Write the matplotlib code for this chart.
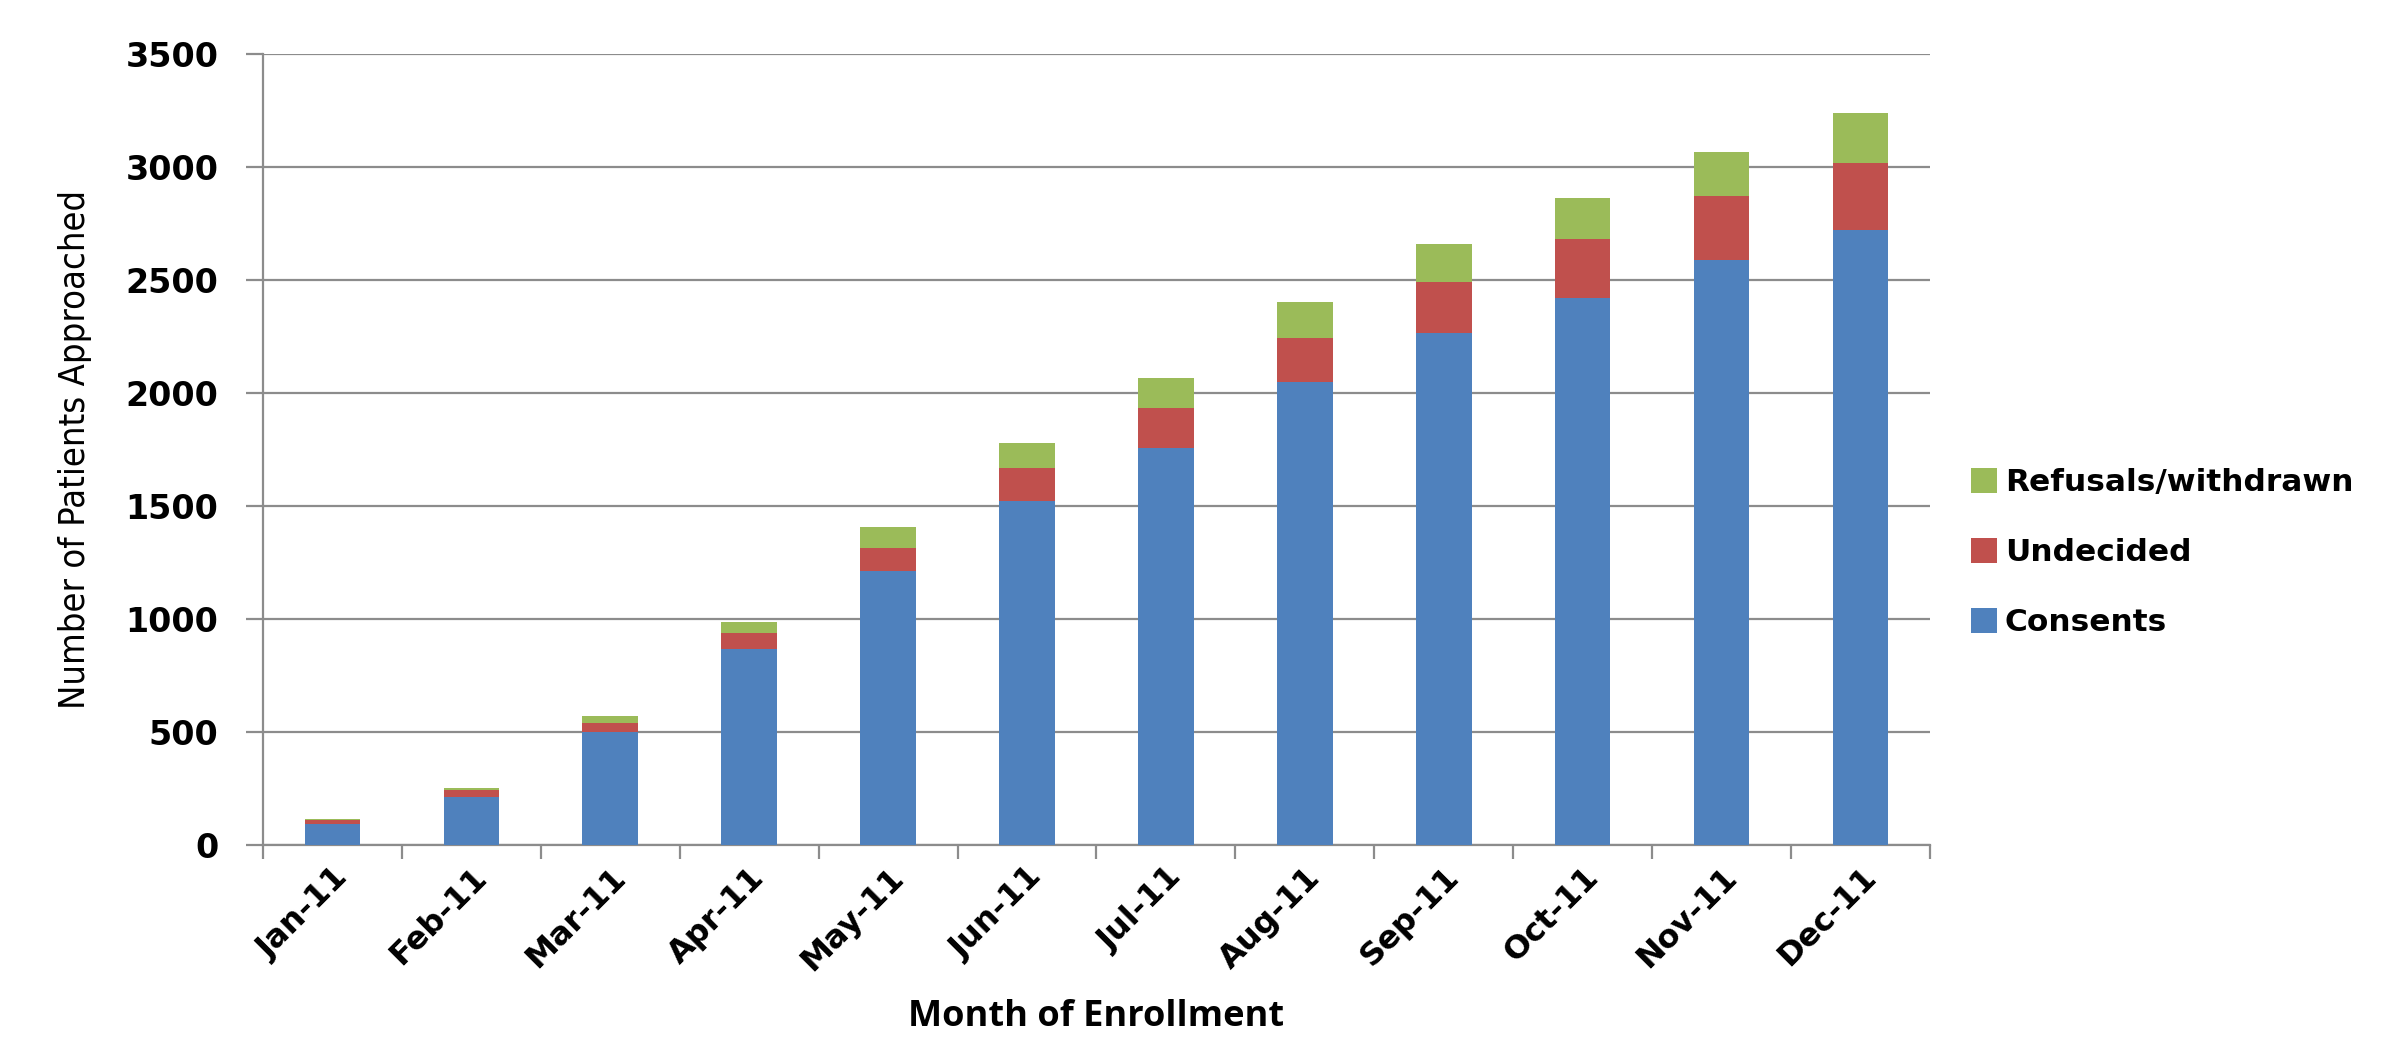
import matplotlib
matplotlib.use("Agg")
import matplotlib.pyplot as plt
import numpy as np

# monthly enrollment, cumulative counts per outcome
months = ["Jan-11", "Feb-11", "Mar-11", "Apr-11", "May-11", "Jun-11",
          "Jul-11", "Aug-11", "Sep-11", "Oct-11", "Nov-11", "Dec-11"]
consents = [93, 212, 500, 867, 1211, 1523, 1758, 2049, 2266, 2420, 2587, 2724]
undecided = [19, 33, 40, 73, 102, 144, 177, 194, 225, 261, 284, 296]
refusals = [5, 6, 30, 47, 93, 111, 131, 162, 167, 184, 197, 220]

blue = "#4F81BD"
red = "#C0504D"
green = "#9BBB59"
grid_grey = "#8C8C8C"

fig = plt.figure(figsize=(24.04, 10.42), dpi=100)
ax = fig.add_axes([0.1094, 0.189, 0.6934, 0.759])

x = np.arange(len(months))
w = 0.40
b1 = ax.bar(x, consents, w, color=blue, label="Consents", zorder=3)
b2 = ax.bar(x, undecided, w, bottom=consents, color=red, label="Undecided", zorder=3)
bottom3 = np.array(consents) + np.array(undecided)
b3 = ax.bar(x, refusals, w, bottom=bottom3, color=green, label="Refusals/withdrawn", zorder=3)

ax.set_xlim(-0.5, len(months) - 0.5)
ax.set_ylim(0, 3500)
ax.set_yticks(range(0, 3501, 500))
ax.yaxis.grid(True, color=grid_grey, linewidth=1.6, zorder=0)
ax.set_axisbelow(True)

for s in ["top", "right"]:
    ax.spines[s].set_visible(False)
for s in ["left", "bottom"]:
    ax.spines[s].set_color(grid_grey)
    ax.spines[s].set_linewidth(1.6)

# tick marks sit on the category boundaries, labels at the centres
ax.set_xticks(x)
ax.set_xticks(np.arange(-0.5, len(months), 1), minor=True)
ax.tick_params(axis="x", which="major", length=0, pad=12)
ax.tick_params(axis="x", which="minor", length=10, width=1.6, color=grid_grey)
ax.tick_params(axis="y", length=12, width=1.6, color=grid_grey, pad=20)

ax.set_xticklabels(months, rotation=45, ha="right", rotation_mode="anchor",
                   fontsize=23, fontweight="bold", family="DejaVu Sans")
for lbl in ax.get_yticklabels():
    lbl.set_fontsize(24)
    lbl.set_fontweight("bold")

ax.set_xlabel("Month of Enrollment", fontsize=26, fontweight="bold",
              family=["Open Sans", "DejaVu Sans"], labelpad=16)
ax.set_ylabel("Number of Patients Approached", fontsize=26,
              family=["Liberation Sans Narrow", "DejaVu Sans"],
              fontstretch="condensed", labelpad=24)

leg = ax.legend(handles=[b3, b2, b1], loc="center left",
                bbox_to_anchor=(1.015, 0.37), frameon=False, borderpad=0,
                prop={"size": 22.5, "weight": "bold", "family": "DejaVu Sans"},
                handlelength=0.85, handleheight=0.85, handletextpad=0.25,
                labelspacing=1.3)

fig.savefig("out.png", dpi=100, facecolor="white")
